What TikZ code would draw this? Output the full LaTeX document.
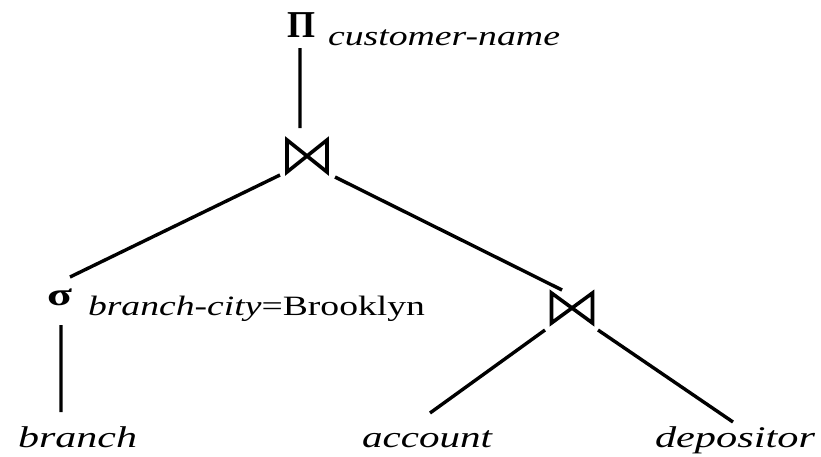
\documentclass[tikz,border=0pt]{standalone}
\usepackage{fontspec}
\setmainfont{Liberation Serif}
\usetikzlibrary{calc}

% stretch a piece of text to a given width, keeping its height
\newcommand{\widetext}[2]{\resizebox{#1}{\height}{#2}}

\tikzset{
  lbl/.style={inner sep=0pt, outer sep=0pt, anchor=base west},
  opfont/.style={font=\fontsize{38}{40}\selectfont\bfseries},
  subfont/.style={font=\fontsize{28}{32}\selectfont\itshape},
  leaffont/.style={font=\fontsize{30}{34}\selectfont\itshape},
  joinbox/.style={minimum width=40pt, minimum height=32pt, inner sep=0pt, outer sep=0pt},
  bowtie/.style={line width=3.6pt, line join=miter},
  edge/.style={line width=3.4pt},
}

\begin{document}
\begin{tikzpicture}[x=1pt,y=-1pt]
\useasboundingbox (0,0) rectangle (821,456);

% projection
\node[lbl, opfont] (pi) at (287,37) {\widetext{28pt}{Π}};
\node[lbl, subfont] (pisub) at (328,45) {\widetext{232pt}{customer-name}};

% upper join
\node[joinbox] (j1) at (307,156) {};
\draw[bowtie] (j1.north west) -- (j1.south west) -- (j1.north east) -- (j1.south east) -- cycle;

% selection
\node[lbl, font=\fontsize{32}{34}\selectfont\bfseries] (sigma) at (47,305) {\widetext{25pt}{σ}};
\node[lbl, font=\fontsize{28}{32}\selectfont] (sigsub) at (88,315)
  {\widetext{337pt}{\textit{branch-city}=Brooklyn}};

% lower join
\node[joinbox, minimum width=41pt, minimum height=30pt] (j2) at (572,308) {};
\draw[bowtie] (j2.north west) -- (j2.south west) -- (j2.north east) -- (j2.south east) -- cycle;

% relations
\node[lbl, leaffont] (branch) at (18,447) {\widetext{119pt}{branch}};
\node[lbl, leaffont] (account) at (362,447) {\widetext{130pt}{account}};
\node[lbl, leaffont] (depositor) at (655,447) {\widetext{160pt}{depositor}};

% tree edges
\draw[edge] ($(pi.base)+(-1,11)$) -- ($(j1.north)+(-7,-12)$);
\draw[edge] ($(j1.south west)+(-7,3)$) -- ($(sigma.base)+(10.5,-28)$);
\draw[edge] ($(j1.south east)+(8,5)$) -- ($(j2.north west)+(10.5,-3)$);
\draw[edge] ($(sigma.base)+(1.5,20)$) -- ($(branch.base)+(-16.5,-35)$);
\draw[edge] ($(j2.south west)+(-6.5,7)$) -- ($(account.base)+(3,-34)$);
\draw[edge] ($(j2.south east)+(5.5,7)$) -- ($(depositor.base)+(-2,-25)$);
\end{tikzpicture}
\end{document}
